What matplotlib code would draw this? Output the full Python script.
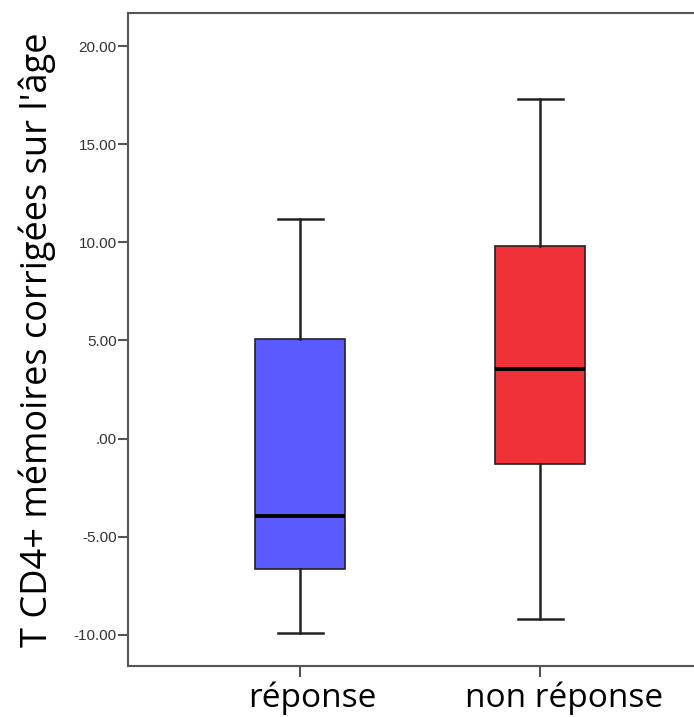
import matplotlib
matplotlib.use("Agg")
import matplotlib.pyplot as plt
from matplotlib.transforms import ScaledTranslation

categories = ["réponse", "non réponse"]
whislo = [-9.9, -9.2]
q1 = [-6.65, -1.3]
med = [-3.95, 3.57]
q3 = [5.05, 9.8]
whishi = [11.2, 17.33]
colors = ["#5a5aff", "#ee3238"]
yticks = [-10, -5, 0, 5, 10, 15, 20]
yticklabels = ["-10.00", "-5.00", ".00", "5.00", "10.00", "15.00", "20.00"]

fig = plt.figure(figsize=(6.94, 7.17), dpi=100)
ax = fig.add_axes([0.184, 0.071, 0.816, 0.911])

stats = []
for i, c in enumerate(categories):
    stats.append(dict(label=c, whislo=whislo[i], q1=q1[i], med=med[i],
                      q3=q3[i], whishi=whishi[i], fliers=[]))

bp = ax.bxp(stats, positions=[1, 2], widths=0.375, patch_artist=True,
            showfliers=False,
            boxprops=dict(edgecolor="#222222", linewidth=1.2),
            whiskerprops=dict(color="#222222", linewidth=1.8),
            capprops=dict(color="#222222", linewidth=1.8),
            medianprops=dict(color="black", linewidth=2.8),
            capwidths=0.19)
for patch, col in zip(bp["boxes"], colors):
    patch.set_facecolor(col)

ax.set_xlim(0.28, 2.64)
ax.set_ylim(-11.6, 21.7)
ax.set_yticks(yticks)
ax.set_yticklabels(yticklabels, fontsize=11, color="#333333", family="Liberation Sans")
ax.set_xticks([1, 2])
ax.set_xticklabels(categories, fontsize=24, family="Open Sans")
ax.tick_params(axis="y", length=7, width=1.5, color="#555555", pad=1)
ax.tick_params(axis="x", length=8, width=1.5, color="#555555", pad=3)
for lab, dx in zip(ax.get_xticklabels(), [0.12, 0.24]):
    lab.set_transform(lab.get_transform() + ScaledTranslation(dx, 0, fig.dpi_scale_trans))
for s in ["left", "top", "bottom"]:
    ax.spines[s].set_color("#555555")
    ax.spines[s].set_linewidth(1.5)
ax.spines["right"].set_visible(False)

ax.set_ylabel("T CD4+ mémoires corrigées sur l'âge", fontsize=26,
              family="Open Sans", va="center")
ax.yaxis.set_label_coords(-0.16, 0.5)

fig.savefig("out.png", dpi=100)
